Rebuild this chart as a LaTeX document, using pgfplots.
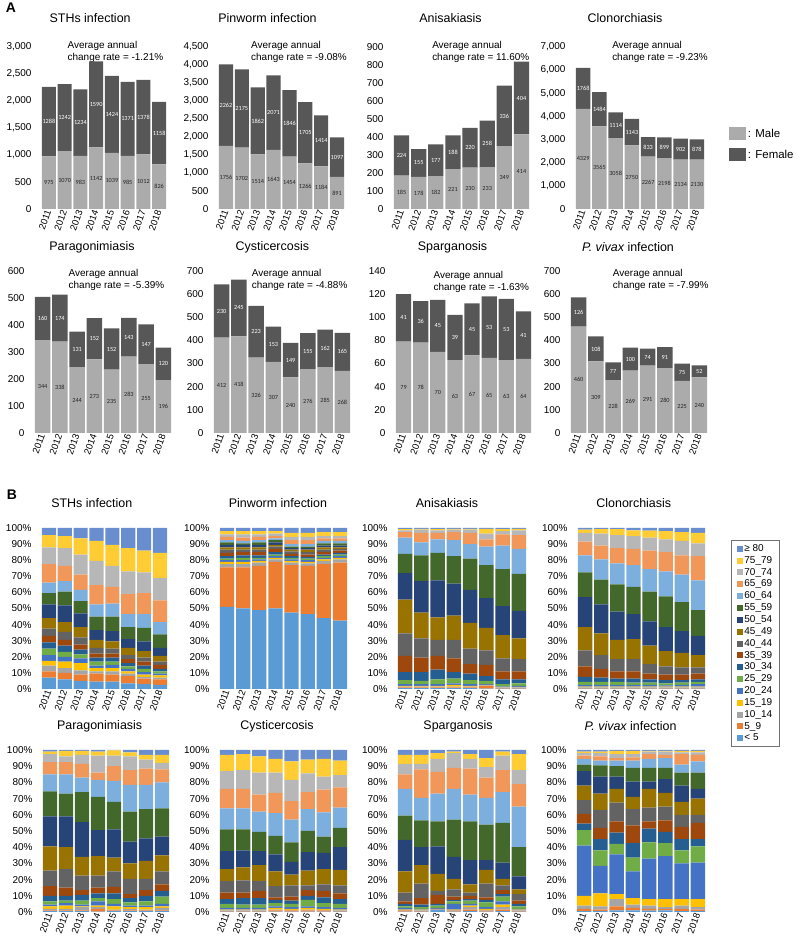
\documentclass[border=0pt]{standalone}
\usepackage{fontspec}
\setmainfont{Liberation Sans}
\newfontfamily\lab{Carlito}
\usepackage{pgfplots}
\usepackage{pgfplotstable}
\pgfplotsset{compat=1.18}

\definecolor{male}{RGB}{171,171,171}
\definecolor{female}{RGB}{87,87,87}
\definecolor{g1}{HTML}{5B9BD5}
\definecolor{g2}{HTML}{ED7D31}
\definecolor{g3}{HTML}{A5A5A5}
\definecolor{g4}{HTML}{FFC000}
\definecolor{g5}{HTML}{4472C4}
\definecolor{g6}{HTML}{70AD47}
\definecolor{g7}{HTML}{255E91}
\definecolor{g8}{HTML}{9E480E}
\definecolor{g9}{HTML}{636363}
\definecolor{g10}{HTML}{997300}
\definecolor{g11}{HTML}{264478}
\definecolor{g12}{HTML}{43682B}
\definecolor{g13}{HTML}{7CAFDD}
\definecolor{g14}{HTML}{F1975A}
\definecolor{g15}{HTML}{B7B7B7}
\definecolor{g16}{HTML}{FFCD33}
\definecolor{g17}{HTML}{698ED0}

% ---- panel A: cases by sex ----
\pgfplotstableread{
i m f
0 975 1288
1 1070 1242
2 983 1234
3 1142 1590
4 1039 1424
5 985 1371
6 1012 1378
7 826 1158
}\aSTH
\pgfplotstableread{
i m f
0 1756 2262
1 1702 2175
2 1514 1862
3 1643 2071
4 1454 1846
5 1266 1705
6 1184 1414
7 891 1097
}\aPin
\pgfplotstableread{
i m f
0 185 224
1 178 155
2 182 177
3 221 188
4 230 220
5 233 258
6 349 336
7 414 404
}\aAni
\pgfplotstableread{
i m f
0 4329 1768
1 3565 1484
2 3058 1114
3 2750 1143
4 2267 833
5 2198 899
6 2134 902
7 2130 878
}\aClo
\pgfplotstableread{
i m f
0 344 160
1 338 174
2 244 131
3 273 152
4 235 152
5 283 143
6 255 147
7 196 120
}\aPar
\pgfplotstableread{
i m f
0 412 230
1 418 245
2 326 223
3 307 153
4 240 149
5 276 155
6 285 162
7 268 165
}\aCys
\pgfplotstableread{
i m f
0 79 41
1 78 36
2 70 45
3 63 39
4 67 45
5 65 53
6 63 53
7 64 41
}\aSpa
\pgfplotstableread{
i m f
0 460 126
1 309 108
2 228 77
3 269 100
4 291 74
5 280 91
6 225 75
7 240 52
}\aViv

% ---- panel B: cumulative share (%) at the top of each age group, <5 ... 75_79 ----
\pgfplotstableread{
i b1 b2 b3 b4 b5 b6 b7 b8 b9 b10 b11 b12 b13 b14 b15 b16
0 7 11 14.5 17.5 21 25 29 33 37.5 44 52.5 59.5 66 77.5 88 95.5
1 6 10 13 17 20 23 27 30.5 35.5 41.5 52 60.5 67 76.5 87.5 95
2 5 9 11.5 16 19 21.5 24.5 27.5 32 38.5 47 54.5 61.5 71 83.5 93.5
3 4.5 9.5 11 13 14.5 17 19.5 22 25.5 30.5 36.5 45 52.5 64.5 79.5 92
4 4.5 9 11 13 15 17 19.5 22 25 29.5 36 45 53 63.5 76.5 89.5
5 3.5 8 9.5 11 12.5 14 16 18.5 21 25.5 31 38.5 46.5 59 73 87.5
6 3 6.5 7.5 9 10.5 12.5 14.5 17 19.5 23.5 29.5 38 46.5 59.5 72.5 86
7 2.5 6 7 8.5 9.5 11 12.5 15 17 20.5 25.5 34 41.5 55 69 84.5
}\bSTH
\pgfplotstableread{
i b1 b2 b3 b4 b5 b6 b7 b8 b9 b10 b11 b12 b13 b14 b15 b16
0 51 75.5 77.5 79 80 81 82.5 84.5 86.5 88 89.5 91 92.5 94.5 96 98
1 50 75.5 77.5 79 80 81.5 83 85 86.5 88 89.5 90.5 92 94 96 98
2 49 76.5 78.5 79.5 80.5 81.5 83 85 86.5 88 89.5 91 92.5 94.5 96 98
3 50 79 80.5 81.5 82.5 83.5 85 87 88.5 89.5 91 92.5 93.5 95 96.5 98
4 47.5 77 78.5 79.5 80.5 81.5 82.5 84 85.5 86.5 87.5 88.5 90 92.5 94.5 97
5 46.5 76.5 78 79 80 81 82 83.5 85 86.5 87.5 88.5 90 92.5 94.5 97
6 44 77.5 79.5 80.5 81.5 82.5 83.5 85 86.5 88 89 90.5 92 93.5 95 97.5
7 42.5 78.5 80.5 81.5 82.5 83.5 84.5 86 87 88 89 90.5 92 93.5 95 97.5
}\bPin
\pgfplotstableread{
i b1 b2 b3 b4 b5 b6 b7 b8 b9 b10 b11 b12 b13 b14 b15 b16
0 0.5 1 1.5 2 3 5.5 10.5 20.5 34.5 55.5 72 84 94 97.5 98.5 99.3
1 0.5 1 1.5 2 3 5 10.5 19.5 31.5 47.5 67 83 91 97 99 99.5
2 0.5 1 1.5 2 3 6 12 20.5 30.5 44.5 67.5 84.5 93 97 98.5 99.3
3 0.5 1 1.5 2.5 3.5 6.5 10.5 19 30.5 45.5 65.5 82.5 92.5 97.5 99 99.5
4 0.5 1 1.5 2 3 5.5 9.5 15.5 25 41 61.5 81 90 97 99 99.5
5 0.3 2 2.3 2.6 3 5 8 15 24 38 56.5 77 88.5 93 96.5 99.5
6 0.3 0.6 1 1.3 1.7 3 6 11 19 33.5 51.5 74.5 89 96 98 99.3
7 0.3 0.6 1 1.3 2 3.5 6 11 18.5 31.5 48.5 71.5 87 95.5 98.5 99.5
}\bAni
\pgfplotstableread{
i b1 b2 b3 b4 b5 b6 b7 b8 b9 b10 b11 b12 b13 b14 b15 b16
0 0.3 0.6 1 1.5 2.5 4.5 7.5 14 24 38.5 57 72.5 83 91.5 97 99
1 0.3 0.6 1 1.5 2.5 4.5 7 12.5 21 34.5 52.5 68 80.5 89 96.5 99.3
2 0.3 0.6 1 1.5 2.5 4.5 6.5 11 18.5 30.5 48 65 78 87.5 95.5 99.3
3 0.3 0.6 1 1.5 2.5 4 6.5 11 18.5 31 46.5 63.5 77 87 95 98.5
4 0.3 0.6 1 1.5 2.5 4 6 9.5 15.5 27 42 60.5 74.5 86 94 98.3
5 0.3 0.6 1 1.5 2.3 3.5 5.5 9 14 23.5 38.5 57.5 73 85 93 98
6 0.3 0.6 1 1.5 2.5 4 5.5 9 13.5 22.5 36 54 71 83 92 97.5
7 0.3 0.6 1 1.5 3 4.5 6 9.5 13.5 21 33 49 67.5 82.5 90.5 97
}\bClo
\pgfplotstableread{
i b1 b2 b3 b4 b5 b6 b7 b8 b9 b10 b11 b12 b13 b14 b15 b16
0 0.5 1 2 3.5 4.5 6.5 10 16 25.5 40.5 59 74.5 85 92.5 97.5 99
1 0.5 1 2 4 5.5 7 10 15 26.5 40 59 73 85 92.5 96 99.5
2 0.5 1 3 3.5 4.5 7 10.5 13.5 22.5 34 55.5 74 83 91.5 97 99.5
3 0.3 2 3 4 6.5 8.5 11.5 15 22.5 34.5 50.5 71 81.5 86 96.5 99
4 0.5 1 1.5 3.5 5 8 11.5 15.5 25 33.5 51 68 81 90 96.5 99.7
5 0.5 1 2 3 4 6 8.5 11 20.5 30 43.5 62 78.5 87.5 96 98.5
6 0.5 1 1.5 3 4 6.5 10 13.5 20.5 31.5 45.5 63.5 78.5 88.5 94 97
7 0.5 1 2.5 3.5 5 9.5 13 17 25 35 46.5 64 80 88 92 97
}\bPar
\pgfplotstableread{
i b1 b2 b3 b4 b5 b6 b7 b8 b9 b10 b11 b12 b13 b14 b15 b16
0 0.3 0.6 1 1.5 2.5 5 8 12 19 26.5 37.5 51 64 76 87 97
1 0.3 0.6 1 1.5 2.5 4.5 8.5 12 19.5 27.5 38 51 64 76 87.5 97.5
2 0.3 0.6 1 1.5 2.5 4.5 8.5 13 19 29 37.5 49.5 62 72.5 86 96
3 0.3 1 1.5 2.5 3.5 5.5 7.5 9 16 25 35.5 47 61 73.5 86 94.5
4 0.3 1 1.3 2 3 5 7 9.5 16.5 23 31 43 57 68.5 81.5 93
5 0.3 1 1.5 2.5 3.5 7.5 10 13.5 16.5 25.5 37 50 63.5 74 85.5 94
6 0.3 1 1.3 2 3 5.5 9 13 17 26.5 36.5 46.5 61.5 75.5 83.5 94.5
7 0.3 0.6 1 1.5 2.5 5 8 11.5 16.5 26 40 52 64.5 77 84.5 93.5
}\bCys
\pgfplotstableread{
i b1 b2 b3 b4 b5 b6 b7 b8 b9 b10 b11 b12 b13 b14 b15 b16
0 0.3 1 1.2 1.5 2.5 3.5 5 6.5 12 25 44.5 59.5 76 85 91.5 97
1 0.3 0.6 1 1.5 2 3 4.5 8.5 17.5 29 40 56.5 70.5 88 91.5 97
2 1.3 1.5 1.7 2 2.5 4 5 10.5 13 23.5 40.5 56 73 86.5 94.5 98
3 0.3 0.8 1.2 1.5 5 6.5 7.5 9.5 14 20.5 34 57 76 89 98 99
4 0.5 1.5 3 4 5 7 8 10 12 17 32 56 72.5 88.5 94.5 97.5
5 0.3 0.8 1.3 2 3 6 7.5 9 17.5 26 32 54 70.5 83 89.5 95
6 0.5 1.5 3 4.5 6.5 9.5 11 13.5 16.5 20.5 30.5 55 74 87.5 96.5 99
7 0.3 0.6 1 1.5 2 3.5 5 7 11 14 22 40 65 79 87.5 97.5
}\bSpa
\pgfplotstableread{
i b1 b2 b3 b4 b5 b6 b7 b8 b9 b10 b11 b12 b13 b14 b15 b16
0 0.5 2 4 10 41 50.5 54.5 60.5 69 78 87 91 94.5 96.5 98 99
1 0.5 1.5 3.5 11.5 28.5 38 45 52 63 73 83.5 90.5 93.5 96 98 99
2 1 3.5 8 11 35.5 42 49 56 67.5 76 83.5 90 93.5 95 97.5 99.5
3 1 2.5 4.5 8.5 25 33.5 42.5 53.5 63.5 71 80.5 89 93.5 95.5 97.5 99.5
4 0.8 2 4 8 33 43 51.5 56 64.5 76 80.5 89 94.5 97.5 99 99.5
5 1 2 3 8 34.5 42.5 49.5 56.5 65 73.5 82 89 95 97 99 99.5
6 0.5 2 4 8 30 38 45 52.5 60 68 78 86 91 97.5 98.5 99.5
7 0.5 1.5 3 8 30.5 40.5 45 55 60 70 76 86 93 97 98.5 99.5
}\bViv

\pgfplotsset{
  geom/.style={scale only axis, xmin=-0.5, xmax=7.5, ymin=0, clip=false},
  bars/.style={ybar stacked, bar width=0.89,
    axis line style={draw=none}, tick style={draw=none}, major tick length=0pt,
    xtick={0,...,7}, xticklabels={2011,2012,2013,2014,2015,2016,2017,2018},
    xticklabel style={rotate=70, anchor=east, font=\fontsize{9.5}{9.5}\selectfont, inner sep=1bp},
    yticklabel style={font=\fontsize{10}{10}\selectfont, xshift=-6bp},
    /pgf/number format/assume math mode=true,
    /pgf/number format/1000 sep={,},
    title style={font=\fontsize{12.5}{12.5}\selectfont, anchor=center}},
  lbl/.style={draw=none, mark=none, nodes near coords, point meta=explicit symbolic,
    every node near coord/.style={anchor=center, inner sep=0pt,
      font=\lab\fontsize{6.3}{6.3}\selectfont, text=#1}},
  sqleg/.style={legend image code/.code={\fill[##1] (0bp,-3bp) rectangle (6bp,3bp);}},
  sqlegA/.style={legend image code/.code={\fill[##1] (0bp,-6.5bp) rectangle (17bp,6.5bp);}},
  extraA/.style={},
  extraB/.style={},
}
\tikzset{rate/.style={anchor=north west, align=left, inner sep=0pt,
  font=\fontsize{10}{12}\selectfont}}

% #1 at, #2 width, #3 ymax, #4 ystep, #5 table, #6 title, #7 title pos, #8 rate, #9 rate pos
\newcommand\chartA[9]{%
  \begin{axis}[geom, bars, extraA, at={(#1)}, width=#2, height=162bp,
      ymax=#3, ytick distance=#4,
      title={#6}, title style={at={(axis description cs:#7)}}]
    \addplot[fill=male, draw=none] table[x=i, y=m]{#5};
    \addplot[fill=female, draw=none] table[x=i, y=f]{#5};
    \node[rate] at (axis description cs:#9) {Average annual\\change rate = #8};
  \end{axis}
  \begin{axis}[geom, hide axis, at={(#1)}, width=#2, height=162bp, ymax=#3]
    \addplot[lbl=black!85] table[x=i, y expr=\thisrow{m}/2, meta=m]{#5};
    \addplot[lbl=white] table[x=i, y expr=\thisrow{m}+\thisrow{f}/2, meta=f]{#5};
  \end{axis}}

\newcommand\bstack[1]{%
  \addplot[fill=g1, draw=none] table[x=i, y=b1]{#1};
  \addplot[fill=g2, draw=none] table[x=i, y expr=\thisrow{b2}-\thisrow{b1}]{#1};
  \addplot[fill=g3, draw=none] table[x=i, y expr=\thisrow{b3}-\thisrow{b2}]{#1};
  \addplot[fill=g4, draw=none] table[x=i, y expr=\thisrow{b4}-\thisrow{b3}]{#1};
  \addplot[fill=g5, draw=none] table[x=i, y expr=\thisrow{b5}-\thisrow{b4}]{#1};
  \addplot[fill=g6, draw=none] table[x=i, y expr=\thisrow{b6}-\thisrow{b5}]{#1};
  \addplot[fill=g7, draw=none] table[x=i, y expr=\thisrow{b7}-\thisrow{b6}]{#1};
  \addplot[fill=g8, draw=none] table[x=i, y expr=\thisrow{b8}-\thisrow{b7}]{#1};
  \addplot[fill=g9, draw=none] table[x=i, y expr=\thisrow{b9}-\thisrow{b8}]{#1};
  \addplot[fill=g10, draw=none] table[x=i, y expr=\thisrow{b10}-\thisrow{b9}]{#1};
  \addplot[fill=g11, draw=none] table[x=i, y expr=\thisrow{b11}-\thisrow{b10}]{#1};
  \addplot[fill=g12, draw=none] table[x=i, y expr=\thisrow{b12}-\thisrow{b11}]{#1};
  \addplot[fill=g13, draw=none] table[x=i, y expr=\thisrow{b13}-\thisrow{b12}]{#1};
  \addplot[fill=g14, draw=none] table[x=i, y expr=\thisrow{b14}-\thisrow{b13}]{#1};
  \addplot[fill=g15, draw=none] table[x=i, y expr=\thisrow{b15}-\thisrow{b14}]{#1};
  \addplot[fill=g16, draw=none] table[x=i, y expr=\thisrow{b16}-\thisrow{b15}]{#1};
  \addplot[fill=g17, draw=none] table[x=i, y expr=100-\thisrow{b16}]{#1};
}

% #1 at, #2 width, #3 table, #4 title, #5 title pos, #6 height
\newcommand\chartB[6]{%
  \begin{axis}[geom, bars, extraB, at={(#1)}, width=#2, height=#6,
      ymax=100, ytick={0,10,...,100}, yticklabel={\pgfmathprintnumber{\tick}\%},
      title={#4}, title style={at={(axis description cs:#5)}}]
    \bstack{#3}
  \end{axis}}

\begin{document}
\begin{tikzpicture}[x=1bp, y=1bp]
\useasboundingbox (0,0) rectangle (796,937);
\node[font=\bfseries\fontsize{14}{14}\selectfont] at (11,929) {A};
\node[font=\bfseries\fontsize{14}{14}\selectfont] at (12,442) {B};

\chartA{41bp,728bp}{126bp}{3000}{500}{\aSTH}{STHs infection}{0.39,1.142}{-1.21\%}{0.21,1.037}
\chartA{218bp,728bp}{127bp}{4500}{500}{\aPin}{Pinworm infection}{0.39,1.142}{-9.08\%}{0.26,1.037}
\chartA{393bp,728bp}{137bp}{900}{100}{\aAni}{Anisakiasis}{0.42,1.142}{11.60\%}{0.285,1.037}
\pgfplotsset{extraA/.style={legend entries={: Male,: Female},
  every axis plot post/.append style={sqlegA},
  legend style={at={(axis description cs:1.16,0.52)}, anchor=north west, draw=none, fill=none,
    font=\fontsize{11.5}{11.5}\selectfont, row sep=7bp, cells={anchor=west}}}}
\chartA{575bp,728bp}{130bp}{7000}{1000}{\aClo}{Clonorchiasis}{0.385,1.142}{-9.23\%}{0.285,1.037}
\pgfplotsset{extraA/.style={}}
\chartA{34bp,504bp}{138bp}{600}{100}{\aPar}{Paragonimiasis}{0.42,1.111}{-5.39\%}{0.25,1.012}
\chartA{213bp,504bp}{138bp}{700}{100}{\aCys}{Cysticercosis}{0.43,1.111}{-4.88\%}{0.28,1.012}
\chartA{395bp,504bp}{137bp}{140}{20}{\aSpa}{Sparganosis}{0.42,1.111}{-1.63\%}{0.28,1.0}
\chartA{570bp,504bp}{138bp}{700}{100}{\aViv}{{\itshape P. vivax} infection}{0.42,1.111}{-7.99\%}{0.31,1.012}

\chartB{41bp,248bp}{127bp}{\bSTH}{STHs infection}{0.40,1.118}{161bp}
\chartB{219bp,248bp}{129bp}{\bPin}{Pinworm infection}{0.457,1.118}{161bp}
\chartB{397bp,248bp}{130bp}{\bAni}{Anisakiasis}{0.385,1.118}{161bp}
\pgfplotsset{extraB/.style={reverse legend,
  legend entries={< 5,5\_9,10\_14,15\_19,20\_24,25\_29,30\_34,35\_39,40\_44,45\_49,50\_54,55\_59,60\_64,65\_69,70\_74,75\_79,≥ 80},
  every axis plot post/.append style={sqleg},
  legend style={at={(axis description cs:1.194,0.925)}, anchor=north west, draw=black!55,
    font=\fontsize{10}{10}\selectfont, nodes={inner sep=1.2bp}, row sep=1bp,
    inner xsep=6bp, inner ysep=3bp, cells={anchor=west}}}}
\chartB{577bp,248bp}{129bp}{\bClo}{Clonorchiasis}{0.44,1.118}{161bp}
\pgfplotsset{extraB/.style={}}
\chartB{42bp,25bp}{128bp}{\bPar}{Paragonimiasis}{0.45,1.111}{162bp}
\chartB{219bp,25bp}{129bp}{\bCys}{Cysticercosis}{0.45,1.111}{162bp}
\chartB{397bp,25bp}{130bp}{\bSpa}{Sparganosis}{0.47,1.111}{162bp}
\chartB{576bp,25bp}{130bp}{\bViv}{{\itshape P. vivax} infection}{0.42,1.111}{162bp}
\end{tikzpicture}
\end{document}
